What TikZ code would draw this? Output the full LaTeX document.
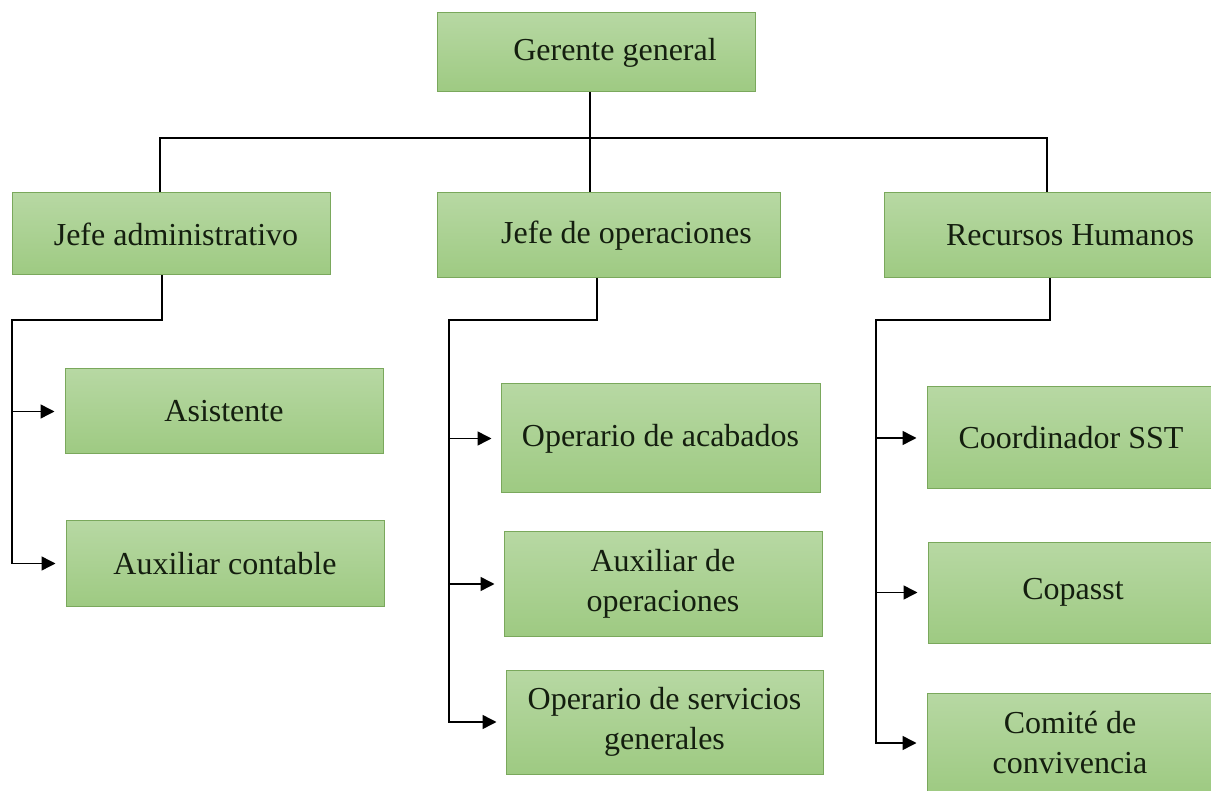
\documentclass[tikz,border=0pt]{standalone}
\usepackage{fontspec}
\setmainfont{Liberation Serif}
\newfontfamily\orgfont{Liberation Serif}
\usetikzlibrary{arrows.meta}
\definecolor{boxtop}{RGB}{183,216,163}
\definecolor{boxbot}{RGB}{158,202,130}
\definecolor{boxline}{RGB}{122,168,92}
\definecolor{txt}{RGB}{20,30,15}
\tikzset{
  orgbox/.style={draw=boxline, line width=1pt, top color=boxtop, bottom color=boxbot,
    inner sep=0pt, align=center, text=txt, font=\orgfont\fontsize{32}{40}\selectfont},
  conn/.style={line width=1.5pt, black},
  arr/.style={conn, -{Triangle[length=14pt,width=14pt]}}
}
\begin{document}
\begin{tikzpicture}[x=1pt,y=-1pt]
\useasboundingbox (0,0) rectangle (1211,791);
\clip (0,0) rectangle (1211,791);
\fill[white] (0,0) rectangle (1211,791);
% boxes
\node[orgbox, minimum width=318pt, minimum height=79pt] (gg) at (596,52.5) {\hspace*{38pt}Gerente general};
\node[orgbox, minimum width=318pt, minimum height=82pt] (ja) at (171,234) {\hspace*{10pt}Jefe administrativo};
\node[orgbox, minimum width=343pt, minimum height=85pt] (jo) at (608.5,235.5) {\hspace*{36pt}Jefe de operaciones};
\node[orgbox, minimum width=372pt, minimum height=85pt] (rh) at (1070,235.5) {Recursos Humanos};
\node[orgbox, minimum width=318pt, minimum height=85pt] (as) at (224,411.5) {Asistente};
\node[orgbox, minimum width=318pt, minimum height=85pt] (ac) at (225,563.5) {Auxiliar contable};
\node[orgbox, minimum width=319pt, minimum height=109pt] (oa) at (660.5,438.5) {Operario de acabados};
\node[orgbox, minimum width=318pt, minimum height=104pt] (ao) at (663,584) {Auxiliar de\\operaciones};
\node[orgbox, minimum width=317pt, minimum height=104pt] (os) at (664.5,722) {Operario de servicios\\generales};
\node[orgbox, minimum width=288pt, minimum height=102pt] (cs) at (1071,438) {Coordinador SST};
\node[orgbox, minimum width=290pt, minimum height=101pt] (cp) at (1073,592.5) {Copasst};
\node[orgbox, minimum width=286pt, minimum height=100pt] (cc) at (1070,743) {Comit\'e de\\convivencia};
% top connectors
\coordinate (j0) at (590,138);
\coordinate (jL) at (160,138);
\coordinate (jR) at (1047,138);
\draw[conn] (j0 |- gg.south) -- (j0 |- jo.north);
\draw[conn] (jL |- ja.north) -- (jL) -- (jR) -- (jR |- rh.north);
% left group
\coordinate (a1) at (162,320);
\coordinate (a2) at (12,320);
\draw[arr] (a1 |- ja.south) -- (a1) -- (a2) |- ([xshift=-10pt]ac.west);
\draw[arr] (a2 |- as.west) -- ([xshift=-10pt]as.west);
% middle group
\coordinate (b1) at (597,320);
\coordinate (b2) at (449,320);
\draw[arr] (b1 |- jo.south) -- (b1) -- (b2) |- ([xshift=-9pt]os.west);
\draw[arr] (b2 |- oa.west) -- ([xshift=-9pt]oa.west);
\draw[arr] (b2 |- ao.west) -- ([xshift=-9pt]ao.west);
% right group
\coordinate (c1) at (1050,320);
\coordinate (c2) at (876,320);
\draw[arr] (c1 |- rh.south) -- (c1) -- (c2) |- ([xshift=-10pt]cc.west);
\draw[arr] (c2 |- cs.west) -- ([xshift=-10pt]cs.west);
\draw[arr] (c2 |- cp.west) -- ([xshift=-10pt]cp.west);
\end{tikzpicture}
\end{document}
